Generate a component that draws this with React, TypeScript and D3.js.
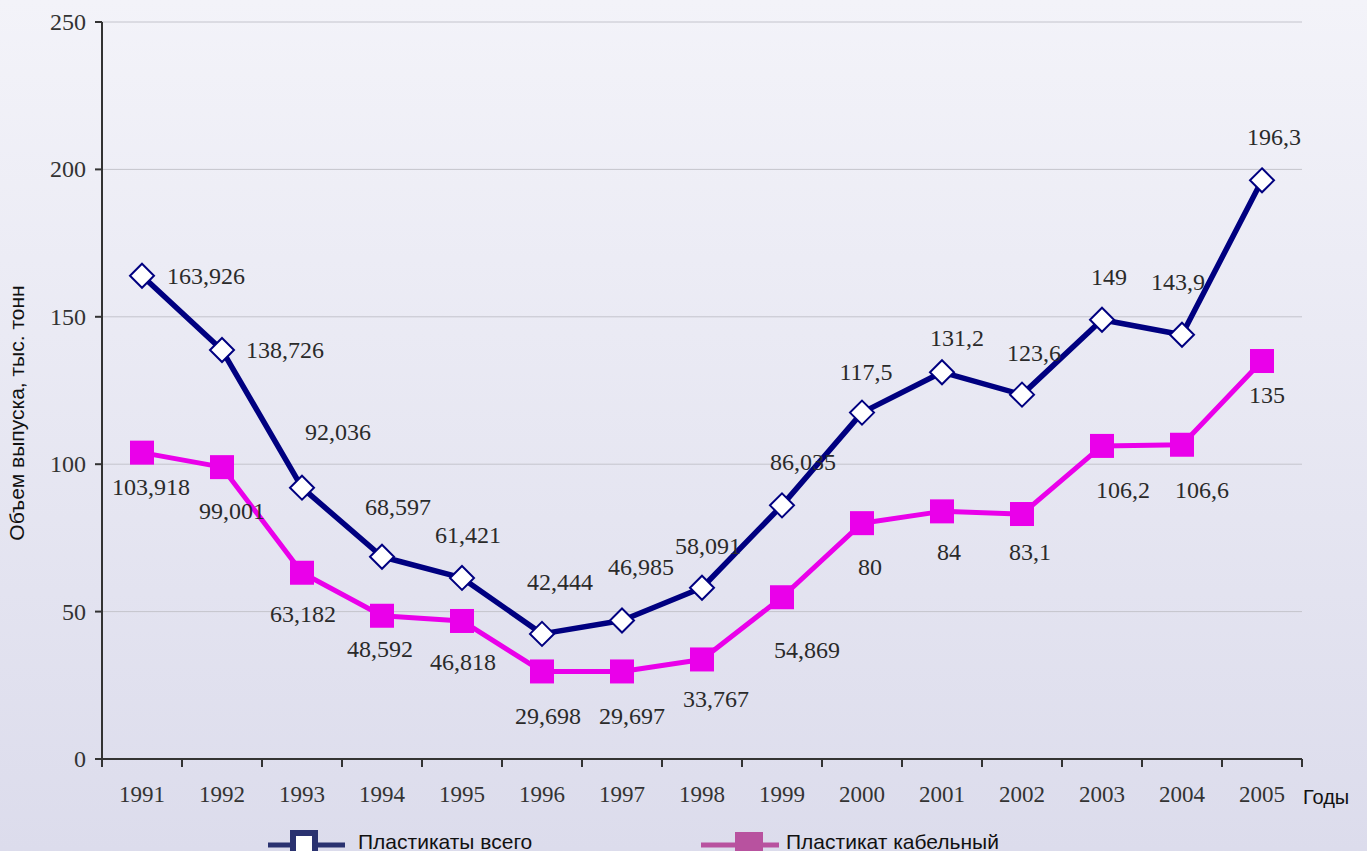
import React from 'react';
import * as d3 from 'd3';

// years on the x axis
const years = ['1991', '1992', '1993', '1994', '1995', '1996', '1997', '1998',
  '1999', '2000', '2001', '2002', '2003', '2004', '2005'];

// Пластикаты всего
const totalValues = [163.926, 138.726, 92.036, 68.597, 61.421, 42.444, 46.985, 58.091,
  86.035, 117.5, 131.2, 123.6, 149, 143.9, 196.3];

// Пластикат кабельный
const cableValues = [103.918, 99.001, 63.182, 48.592, 46.818, 29.698, 29.697, 33.767,
  54.869, 80, 84, 83.1, 106.2, 106.6, 135];

const yTicks = [0, 50, 100, 150, 200, 250];

const seriesNames = ['Пластикаты всего', 'Пластикат кабельный'];

// label offsets from the point (layout only)
const totalLabelOffsets = [[64, 0], [63, 0], [36, -56], [16, -50], [6, -43], [18, -52], [19, -53],
  [6, -42], [21, -43], [4, -41], [15, -34], [12, -42], [7, -43], [-4, -53], [12, -43]];
const cableLabelOffsets = [[9, 34], [10, 44], [1, 41], [-2, 33], [1, 41], [6, 45], [10, 45],
  [14, 40], [25, 53], [8, 44], [7, 41], [8, 38], [21, 44], [20, 45], [5, 34]];

const W = 1367;
const H = 851;
const margin = {top: 22, left: 102, right: 65, bottom: 92};

const NAVY = '#000080';
const MAGENTA = '#ea00ea';
const serif = '"Liberation Serif", "Times New Roman", serif';
const sans = '"Liberation Sans", Arial, sans-serif';

const fmt = (v: number) => String(v).replace('.', ',');

export default function App() {
  const x = d3.scaleBand<string>().domain(years).range([margin.left, W - margin.right]);
  const y = d3.scaleLinear().domain([0, 250]).range([H - margin.bottom, margin.top]);
  const cx = (d: string) => (x(d) as number) + x.bandwidth() / 2;

  const line = d3.line<number>()
    .x((_, i) => cx(years[i]))
    .y(v => y(v));

  const x0 = margin.left;
  const x1 = W - margin.right;
  const y0 = y(0);
  const edges = years.map(d => x(d) as number).concat([x1]);

  return (
    <div style={{position: 'absolute', left: 0, top: 0}}>
      <svg width={W} height={H} style={{display: 'block'}}>
        <defs>
          <linearGradient id="bg" x1="0" y1="0" x2="0" y2="1">
            <stop offset="0%" stopColor="#f3f3f9" />
            <stop offset="100%" stopColor="#dcdcec" />
          </linearGradient>
        </defs>
        <rect x={0} y={0} width={W} height={H} fill="url(#bg)" />

        {/* grid */}
        {yTicks.filter(t => t > 0).map(t => (
          <line key={t} x1={x0} x2={x1} y1={y(t)} y2={y(t)} stroke="#c4c4cc" strokeWidth={1} />
        ))}

        {/* y axis */}
        <line x1={x0} x2={x0} y1={margin.top} y2={y0} stroke="#333" strokeWidth={2} />
        {yTicks.map(t => (
          <g key={t}>
            <line x1={x0 - 7} x2={x0} y1={y(t)} y2={y(t)} stroke="#333" strokeWidth={2} />
            <text x={86} y={y(t) + 8} textAnchor="end" fontFamily={serif} fontSize={24} fill="#333">{t}</text>
          </g>
        ))}

        {/* x axis */}
        <line x1={x0} x2={x1} y1={y0} y2={y0} stroke="#333" strokeWidth={2} />
        {edges.map((e, i) => (
          <line key={i} x1={e} x2={e} y1={y0} y2={y0 + 8} stroke="#333" strokeWidth={2} />
        ))}
        {years.map(d => (
          <text key={d} x={cx(d)} y={802} textAnchor="middle" fontFamily={serif} fontSize={23} fill="#333">{d}</text>
        ))}
        <text x={1303} y={804} fontFamily={sans} fontSize={20} fill="#111">Годы</text>

        <text transform="translate(24,413) rotate(-90)" textAnchor="middle" fontFamily={sans} fontSize={21} fill="#111">
          Объем выпуска, тыс. тонн
        </text>

        {/* cable series */}
        <path d={line(cableValues) || ''} fill="none" stroke={MAGENTA} strokeWidth={5} strokeLinejoin="round" />
        {cableValues.map((v, i) => (
          <rect key={i} x={cx(years[i]) - 12} y={y(v) - 12} width={24} height={24} fill={MAGENTA} />
        ))}

        {/* total series */}
        <path d={line(totalValues) || ''} fill="none" stroke={NAVY} strokeWidth={5.5} strokeLinejoin="round" />
        {totalValues.map((v, i) => {
          const px = cx(years[i]);
          const py = y(v);
          const r = 12;
          return (
            <path key={i} d={`M${px},${py - r}L${px + r},${py}L${px},${py + r}L${px - r},${py}Z`}
              fill="#fff" stroke={NAVY} strokeWidth={2} />
          );
        })}

        {/* data labels */}
        {totalValues.map((v, i) => (
          <text key={'t' + i} x={cx(years[i]) + totalLabelOffsets[i][0]} y={y(v) + totalLabelOffsets[i][1] + 8}
            textAnchor="middle" fontFamily={serif} fontSize={24} fill="#2a2a2a">{fmt(v)}</text>
        ))}
        {cableValues.map((v, i) => (
          <text key={'c' + i} x={cx(years[i]) + cableLabelOffsets[i][0]} y={y(v) + cableLabelOffsets[i][1] + 8}
            textAnchor="middle" fontFamily={serif} fontSize={24} fill="#2a2a2a">{fmt(v)}</text>
        ))}

        {/* legend */}
        <g>
          <line x1={268} x2={345} y1={845} y2={845} stroke="#2a3270" strokeWidth={5} />
          <rect x={293} y={833} width={22} height={24} fill="#fff" stroke="#2a3270" strokeWidth={6} />
          <text x={358} y={849} fontFamily={sans} fontSize={21} fill="#111">{seriesNames[0]}</text>

          <line x1={701} x2={779} y1={845} y2={845} stroke="#b8529f" strokeWidth={5} />
          <rect x={735} y={832} width={28} height={28} fill="#b8529f" />
          <text x={786} y={849} fontFamily={sans} fontSize={21} fill="#111">{seriesNames[1]}</text>
        </g>
      </svg>
    </div>
  );
}
